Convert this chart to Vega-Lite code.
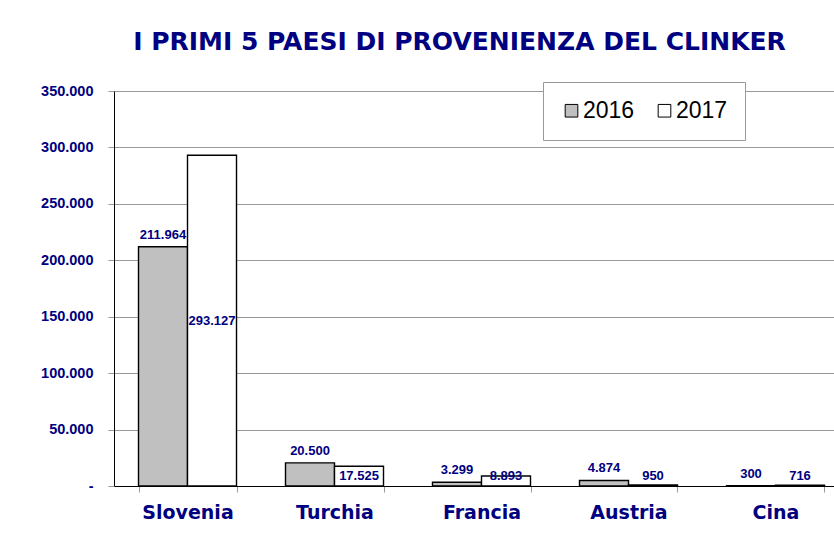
{
  "$schema": "https://vega.github.io/schema/vega-lite/v6.json",
  "width": 735,
  "height": 395,
  "padding": {"left": 40, "top": 29, "right": 0, "bottom": 0},
  "background": "white",
  "title": {
    "text": "I PRIMI 5 PAESI DI PROVENIENZA DEL CLINKER",
    "font": "DejaVu Sans",
    "fontSize": 25,
    "fontWeight": "bold",
    "color": "#000080",
    "anchor": "middle",
    "frame": "group",
    "dx": -22,
    "offset": 27
  },
  "data": {
    "values": [
      {"paese": "Slovenia", "anno": "2016", "valore": 211964},
      {"paese": "Slovenia", "anno": "2017", "valore": 293127},
      {"paese": "Turchia", "anno": "2016", "valore": 20500},
      {"paese": "Turchia", "anno": "2017", "valore": 17525},
      {"paese": "Francia", "anno": "2016", "valore": 3299},
      {"paese": "Francia", "anno": "2017", "valore": 8893},
      {"paese": "Austria", "anno": "2016", "valore": 4874},
      {"paese": "Austria", "anno": "2017", "valore": 950},
      {"paese": "Cina", "anno": "2016", "valore": 300},
      {"paese": "Cina", "anno": "2017", "valore": 716}
    ]
  },
  "transform": [
    {"calculate": "replace(format(datum.valore, ',d'), regexp(',', 'g'), '.')", "as": "etichetta"},
    {"calculate": "datum.anno == '2017' ? max(datum.valore / 2, 8860) : datum.valore", "as": "pos"}
  ],
  "encoding": {
    "x": {
      "field": "paese",
      "type": "nominal",
      "sort": ["Slovenia", "Turchia", "Francia", "Austria", "Cina"],
      "scale": {"paddingInner": 0.3333, "paddingOuter": 0.1667},
      "axis": {
        "title": null,
        "labelAngle": 0,
        "labelFont": "DejaVu Sans",
        "labelFontSize": 19,
        "labelFontWeight": "bold",
        "labelColor": "#000080",
        "labelPadding": 11,
        "tickBand": "extent",
        "tickColor": "#999999",
        "tickSize": 6,
        "domainColor": "#000000",
        "grid": false
      }
    },
    "xOffset": {"field": "anno", "type": "nominal", "scale": {"paddingInner": 0, "paddingOuter": 0}}
  },
  "layer": [
    {
      "mark": {"type": "bar", "stroke": "#000000", "strokeWidth": 1.4},
      "encoding": {
        "y": {
          "field": "valore",
          "type": "quantitative",
          "scale": {"domain": [0, 350000], "nice": false},
          "axis": {
            "title": null,
            "values": [0, 50000, 100000, 150000, 200000, 250000, 300000, 350000],
            "labelExpr": "datum.value == 0 ? '-' : replace(format(datum.value, ',d'), regexp(',', 'g'), '.')",
            "labelFont": "Liberation Sans",
            "labelFontSize": 14.5,
            "labelFontWeight": "bold",
            "labelColor": "#000080",
            "labelPadding": 15,
            "tickColor": "#999999",
            "tickSize": 6,
            "domainColor": "#000000",
            "gridColor": "#999999",
            "gridWidth": 1
          }
        },
        "fill": {
          "field": "anno",
          "type": "nominal",
          "scale": {"domain": ["2016", "2017"], "range": ["#C0C0C0", "#FFFFFF"]},
          "legend": {
            "title": null,
            "orient": "none",
            "direction": "horizontal",
            "legendX": 429,
            "legendY": -9,
            "symbolType": "square",
            "symbolSize": 160,
            "symbolStrokeColor": "#000000",
            "symbolStrokeWidth": 1,
            "labelFont": "Liberation Sans",
            "labelFontSize": 23,
            "labelColor": "#000000",
            "labelOffset": 0,
            "columnPadding": 18,
            "padding": 17,
            "strokeColor": "#999999",
            "fillColor": "#FFFFFF"
          }
        }
      }
    },
    {
      "transform": [{"filter": "datum.anno == '2016'"}],
      "mark": {"type": "text", "font": "Liberation Sans", "fontSize": 13, "fontWeight": "bold", "color": "#000080", "baseline": "middle", "dy": -12},
      "encoding": {
        "y": {"field": "pos", "type": "quantitative"},
        "text": {"field": "etichetta"}
      }
    },
    {
      "transform": [{"filter": "datum.anno == '2017'"}],
      "mark": {"type": "text", "font": "Liberation Sans", "fontSize": 13, "fontWeight": "bold", "color": "#000080", "baseline": "middle"},
      "encoding": {
        "y": {"field": "pos", "type": "quantitative"},
        "text": {"field": "etichetta"}
      }
    }
  ],
  "config": {
    "view": {"stroke": null}
  }
}
